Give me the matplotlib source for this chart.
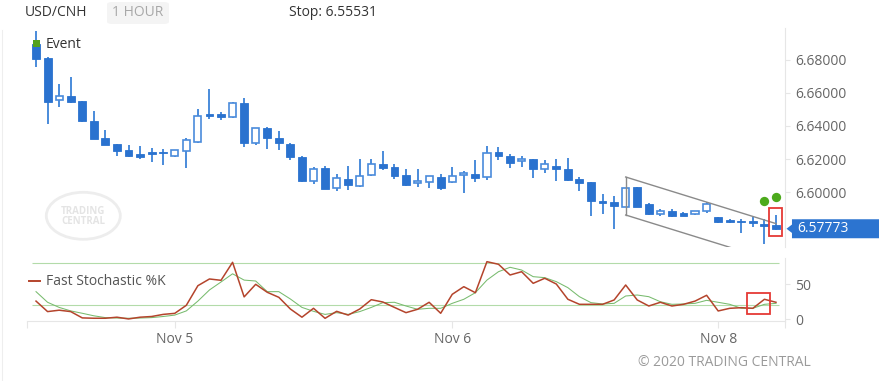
import matplotlib
matplotlib.use("Agg")
import matplotlib.pyplot as plt
from matplotlib.patches import Rectangle, Polygon, Ellipse, FancyBboxPatch
from matplotlib.lines import Line2D
from matplotlib.transforms import blended_transform_factory
import numpy as np

plt.rcParams['font.family'] = ['Open Sans', 'DejaVu Sans']

# ---------------- data ----------------
symbol = "USD/CNH"
interval = "1 HOUR"
stop_text = "Stop: 6.55531"
last_price = 6.57773

opens = [6.68970, 6.68121, 6.65558, 6.65818, 6.65515, 6.64321, 6.63291, 6.62927, 6.62527, 6.62285,
         6.62412, 6.62442, 6.62164, 6.62503, 6.63030, 6.64709, 6.64727, 6.64545, 6.65412, 6.62988,
         6.63861, 6.63255, 6.62927, 6.62139, 6.60685, 6.61436, 6.60224, 6.60788, 6.60382, 6.61030,
         6.61697, 6.61533, 6.61012, 6.60527, 6.60624, 6.60891, 6.60624, 6.61012, 6.61109, 6.60927,
         6.62406, 6.62182, 6.61921, 6.62018, 6.61376, 6.61576, 6.61394, 6.60788, 6.60588, 6.59424,
         6.59394, 6.59109, 6.60321, 6.59255, 6.58667, 6.58848, 6.58709, 6.58667, 6.58848, 6.58503,
         6.58255, 6.58261, 6.58212, 6.58018, 6.57982]
closes = [6.68061, 6.65455, 6.65818, 6.65436, 6.64285, 6.63230, 6.62867, 6.62485, 6.62164, 6.62139,
          6.62291, 6.62345, 6.62545, 6.63152, 6.64606, 6.64624, 6.64527, 6.65412, 6.62952, 6.63861,
          6.63255, 6.62952, 6.62103, 6.60648, 6.61394, 6.60182, 6.60830, 6.60424, 6.60988, 6.61679,
          6.61473, 6.60988, 6.60406, 6.60667, 6.60988, 6.60261, 6.60952, 6.61170, 6.60867, 6.62345,
          6.62164, 6.61739, 6.61939, 6.61394, 6.61679, 6.61376, 6.60727, 6.60527, 6.59436, 6.59394,
          6.59152, 6.60261, 6.59109, 6.58667, 6.58848, 6.58564, 6.58564, 6.58848, 6.59255, 6.58200,
          6.58230, 6.58164, 6.58182, 6.57982, 6.57773]
highs = [6.69758, 6.68182, 6.66545, 6.66952, 6.65545, 6.64909, 6.63739, 6.62939, 6.62848, 6.62770,
         6.62667, 6.62624, 6.62545, 6.63291, 6.65012, 6.66242, 6.64830, 6.65455, 6.65679, 6.63879,
         6.63958, 6.63697, 6.62952, 6.62152, 6.61497, 6.61576, 6.61073, 6.61576, 6.62018, 6.62000,
         6.62485, 6.61679, 6.61376, 6.61376, 6.61000, 6.61073, 6.61515, 6.61273, 6.61939, 6.62806,
         6.62709, 6.62285, 6.62182, 6.62030, 6.61939, 6.62000, 6.62061, 6.60927, 6.60606, 6.59879,
         6.59758, 6.60261, 6.60330, 6.59315, 6.58952, 6.58952, 6.58758, 6.58879, 6.59412, 6.58515,
         6.58345, 6.58345, 6.58503, 6.58345, 6.58606]
lows = [6.67576, 6.64121, 6.65152, 6.65424, 6.64242, 6.63182, 6.62830, 6.62200, 6.62121, 6.61982,
        6.61836, 6.61618, 6.62103, 6.61436, 6.62952, 6.64424, 6.64364, 6.64515, 6.62709, 6.62867,
        6.62588, 6.62564, 6.61939, 6.60576, 6.60485, 6.60152, 6.60079, 6.60121, 6.60321, 6.60970,
        6.61333, 6.60806, 6.60394, 6.60321, 6.60261, 6.60103, 6.60527, 6.59958, 6.60624, 6.60727,
        6.61939, 6.61436, 6.61533, 6.60867, 6.61170, 6.60685, 6.60697, 6.60061, 6.58564, 6.58648,
        6.57758, 6.59080, 6.59067, 6.58588, 6.58545, 6.58503, 6.58545, 6.58636, 6.58709, 6.58139,
        6.58103, 6.57533, 6.57897, 6.56830, 6.57727]

stoch_k = [26, 11, 13, 11, 2, 1.5, 1.5, 3, 0.5, 3,
           4, 7, 8.5, 20, 48, 57.6, 55.7, 81.4, 32, 50,
           38.6, 31.4, 14.7, 3, 15.7, 1.4, 11.4, 6, 14.7, 28,
           24.7, 17, 9.5, 14.3, 24.3, 8.6, 35.7, 46.6, 38, 82.3,
           78.6, 63.3, 68, 51.4, 58.6, 50.4, 28.6, 21.4, 21.4, 21.4,
           27.6, 49, 27.6, 19, 24.3, 19, 21.4, 26, 34.3, 11.9,
           15.7, 16.6, 15.7, 28.6, 24.3]
stoch_d = [39.5, 24.3, 17, 12, 8.6, 5, 2.4, 1.8, 1.5, 1.8,
           2.4, 4, 6, 12, 26, 41.9, 53.3, 65, 56, 54.7,
           39.5, 39.5, 29, 17, 11.4, 7, 9.5, 7, 11, 17,
           23.8, 24.3, 19, 14.3, 15.7, 15.7, 22.8, 28.6, 38, 56,
           68, 74.3, 70.4, 60.9, 59.5, 53.8, 45.2, 32.3, 23.8, 21.9,
           22.8, 33.3, 34.7, 32.3, 25.1, 21.4, 21.9, 22.8, 27.1, 24.3,
           21.4, 15.7, 15.7, 21.4, 22.8]

date_ticks = [12, 36, 59]
date_labels = ["Nov 5", "Nov 6", "Nov 8"]
price_ticks = [6.60, 6.62, 6.64, 6.66, 6.68]
stoch_ticks = [0, 50]
stoch_levels = [20, 80]
signal_idx = [63, 64]
signal_price = [6.59455, 6.59667]
channel_idx = [51, 64]
channel_upper = [6.60909, 6.58085]
channel_lower = [6.58606, 6.55782]
stoch_box_idx = [61.5, 63.5]
stoch_box_val = [7, 37]

# ---------------- layout ----------------
W, H = 888, 381
def fx(x): return x / W
def fy(y): return 1 - y / H

fig = plt.figure(figsize=(W / 100, H / 100), dpi=100)
fig.patch.set_facecolor('white')

ax = fig.add_axes([fx(27), fy(247), (785 - 27) / W, (247 - 28) / H])
ax2 = fig.add_axes([fx(27), fy(321), (785 - 27) / W, (321 - 258) / H])

o = np.array(opens); c = np.array(closes); hi = np.array(highs); lo = np.array(lows)
n = len(o)
idx = np.arange(n)
xlim = (-0.78, n - 1 + 0.78)

blue = '#2a72cf'
wick_c = '#4a8bdb'
grid_c = '#e6e6e6'
txt_c = '#666666'

# candles
ax.vlines(idx, lo, hi, color=wick_c, lw=1.4, zorder=2)
bull = c >= o
mid = (o + c) / 2
bh = np.maximum(np.abs(c - o), 0.0011)
bb = mid - bh / 2
ax.bar(idx[~bull], bh[~bull], bottom=bb[~bull], width=0.68, color=blue,
       edgecolor=blue, lw=0.6, zorder=3)
ax.bar(idx[bull], bh[bull], bottom=bb[bull], width=0.62, facecolor='white',
       edgecolor=wick_c, lw=1.2, zorder=3)

# channel
ch_c = '#8a8a8a'
ax.plot(channel_idx, channel_upper, color=ch_c, lw=1.0, zorder=4)
ax.plot(channel_idx, channel_lower, color=ch_c, lw=1.0, zorder=4)
ax.plot([channel_idx[0]] * 2, [channel_upper[0], channel_lower[0]], color=ch_c, lw=1.0, zorder=4)

# signal dots
ax.scatter(signal_idx, signal_price, s=45, color='#4caa1c', zorder=5, linewidths=0)

# red highlight box on last candle
pad = 0.0042
ax.add_patch(Rectangle((n - 1 - 0.58, lo[-1] - pad), 1.1, hi[-1] - lo[-1] + 2 * pad,
                       fill=False, edgecolor='#e53935', lw=1.3, zorder=6))

ax.set_xlim(*xlim)
ax.set_ylim(6.56667, 6.69939)
for s in ['left', 'top', 'bottom']:
    ax.spines[s].set_visible(False)
ax.spines['right'].set_color(grid_c)
ax.set_xticks([])
ax.yaxis.tick_right()
ax.set_yticks(price_ticks)
ax.set_yticklabels([f"{v:.5f}" for v in price_ticks])
ax.tick_params(axis='y', length=3.6, width=0.8, color=grid_c, labelcolor=txt_c,
               labelsize=10, pad=3.7)

# current price label
tr = blended_transform_factory(ax.transAxes, ax.transData)
hh = 9.5 / 1650
ah = 4.2 / 1650
poly = Polygon([[1.0020, last_price], [1.0092, last_price + ah], [1.0092, last_price + hh],
                [1.1240, last_price + hh], [1.1240, last_price - hh], [1.0092, last_price - hh],
                [1.0092, last_price - ah]], closed=True, transform=tr, clip_on=False,
               facecolor='#2c74d0', edgecolor='none', zorder=10)
ax.add_patch(poly)
ax.text(1.0162, last_price, f"{last_price:.5f}", transform=tr, color='white', fontsize=10,
        va='center', ha='left', zorder=11, clip_on=False)

# ---------------- stochastic panel ----------------
ax2.hlines(stoch_levels, -0.35, n - 1 + 0.25, color='#b3dba9', lw=0.8, zorder=1)
ax2.plot(idx, stoch_d, color='#78bb6e', lw=0.75, zorder=2)
ax2.plot(idx, stoch_k, color='#b4442c', lw=1.1, zorder=3)
ax2.add_patch(Rectangle((stoch_box_idx[0], stoch_box_val[0]), stoch_box_idx[1] - stoch_box_idx[0],
                        stoch_box_val[1] - stoch_box_val[0], fill=False, edgecolor='#e53935',
                        lw=1.3, zorder=5))
ax2.set_xlim(*xlim)
ax2.set_ylim(-2.43, 87.57)
for s in ['left', 'top']:
    ax2.spines[s].set_visible(False)
ax2.spines['right'].set_color(grid_c)
ax2.spines['bottom'].set_color(grid_c)
ax2.yaxis.tick_right()
ax2.set_yticks(stoch_ticks)
ax2.set_yticklabels([str(v) for v in stoch_ticks])
ax2.tick_params(axis='y', length=3.6, width=0.8, color=grid_c, labelcolor=txt_c,
                labelsize=10, pad=3.5)
ax2.set_xticks(date_ticks)
ax2.set_xticklabels(date_labels)
ax2.set_xticks([xlim[0] + 0.02, xlim[1] - 0.02], minor=True)
ax2.tick_params(axis='x', which='both', length=5, width=0.8, color=grid_c, labelcolor=txt_c,
                labelsize=10, pad=3)

# legend
fig.add_artist(Line2D([fx(29), fx(40)], [fy(281), fy(281)], color='#b4442c', lw=1.4))
fig.text(fx(46), fy(281.5), "Fast Stochastic %K", fontsize=10, color='#555555', va='center', ha='left')

# ---------------- header & decorations ----------------
fig.text(fx(25), fy(13), symbol, fontsize=10, color='#333333', va='center', ha='left')
fig.patches.append(FancyBboxPatch((fx(107), fy(24)), 62 / W, 22 / H,
                                  boxstyle="round,pad=0,rounding_size=0.006",
                                  transform=fig.transFigure, facecolor='#f4f4f4', edgecolor='none'))
fig.text(fx(112), fy(13), interval, fontsize=10, color='#a8a8a8', va='center', ha='left')
fig.text(fx(289), fy(13), stop_text, fontsize=10, color='#333333', va='center', ha='left')

# event marker
fig.patches.append(Rectangle((fx(33), fy(47)), 7 / W, 7 / H, transform=fig.transFigure,
                             facecolor='#53a11c', edgecolor='none', zorder=5))
fig.text(fx(46), fy(45), "Event", fontsize=10, color='#333333', va='center', ha='left')

# watermark
fig.patches.append(Ellipse((fx(83.3), fy(215.8)), 74 / W, 47 / H, transform=fig.transFigure,
                           fill=False, edgecolor='#ededed', lw=2.0))
fig.text(fx(83.3), fy(211), "TRADING", fontsize=7, fontweight='bold', color='#e4e4e4',
         ha='center', va='center')
fig.text(fx(83.3), fy(221), "CENTRAL", fontsize=7, fontweight='bold', color='#e4e4e4',
         ha='center', va='center')

fig.text(fx(638), fy(362), "© 2020 TRADING CENTRAL", fontsize=10, color='#9a9a9a',
         va='center', ha='left')

fig.add_artist(Line2D([fx(1.5), fx(1.5)], [0, fy(30)], color='#eeeeee', lw=0.8))

fig.savefig("out.png", dpi=100)
